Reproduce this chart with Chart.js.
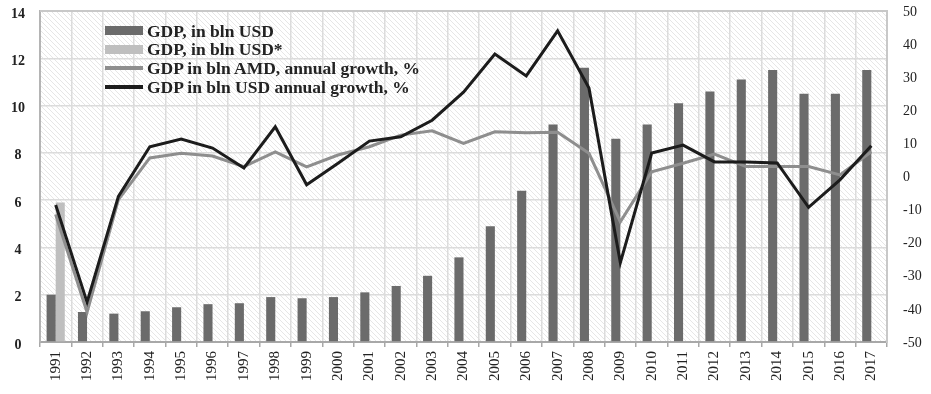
<!DOCTYPE html>
<html>
<head>
<meta charset="utf-8">
<script src="https://cdn.jsdelivr.net/npm/chart.js@4"></script>
<style>
  html, body { margin: 0; padding: 0; background: #fff; }
  #wrap { position: relative; width: 931px; height: 394px; }
  #legend { position: absolute; left: 105px; top: 21.5px; font-family: "Liberation Serif", "Times New Roman", serif; font-weight: bold; font-size: 17.5px; color: #222; line-height: 18.7px; }
  .row { display: flex; align-items: center; height: 18.7px; white-space: nowrap; }
  .sw { width: 38px; margin-right: 4px; flex: none; }
</style>
</head>
<body>
<div id="wrap">
  <canvas id="c" width="931" height="394"></canvas>
  <div id="legend"></div>
</div>
<script>
const years = ['1991','1992','1993','1994','1995','1996','1997','1998','1999','2000','2001','2002','2003','2004','2005','2006','2007','2008','2009','2010','2011','2012','2013','2014','2015','2016','2017'];
const gdpUsd = [2.0,1.27,1.2,1.3,1.47,1.6,1.64,1.9,1.85,1.9,2.1,2.37,2.8,3.58,4.9,6.4,9.2,11.6,8.6,9.2,10.1,10.6,11.1,11.5,10.5,10.5,11.5];
const gdpUsdStar = [5.9,null,null,null,null,null,null,null,null,null,null,null,null,null,null,null,null,null,null,null,null,null,null,null,null,null,null];
const amdGrowth = [-11.5,-41,-7,5.6,7,6.2,3,7.4,2.9,6.5,9,12.5,13.8,10,13.5,13.2,13.4,7,-13.7,1.4,4,6.8,3,3,3,0.5,7.5];
const usdGrowth = [-8.6,-38,-6,9,11.3,8.6,2.6,15,-2.5,4,10.7,12,17,25.5,37,30.4,44,26.7,-26,7.1,9.5,4.4,4.4,4.1,-9.3,-1,9.3];
const leftTicks = [0,2,4,6,8,10,12,14];
const rightTicks = [-50,-40,-30,-20,-10,0,10,20,30,40,50];
const labels = ['GDP, in bln USD','GDP, in bln USD*','GDP in bln AMD, annual growth, %','GDP in bln USD annual growth, %'];

const serif = '"Liberation Serif", "Times New Roman", serif';

// hatch pattern
const pc = document.createElement('canvas');
pc.width = 5; pc.height = 5;
const px = pc.getContext('2d');
px.fillStyle = '#ffffff'; px.fillRect(0,0,5,5);
px.strokeStyle = '#e6e6e6'; px.lineWidth = 1;
px.beginPath(); px.moveTo(-1,-1); px.lineTo(6,6); px.stroke();
px.beginPath(); px.moveTo(-1,4); px.lineTo(1,6); px.stroke();
px.beginPath(); px.moveTo(4,-1); px.lineTo(6,1); px.stroke();

const bgPlugin = {
  id: 'bg',
  beforeDraw(chart) {
    const {ctx, chartArea: a} = chart;
    ctx.save();
    ctx.fillStyle = ctx.createPattern(pc, 'repeat');
    ctx.fillRect(a.left, a.top, a.right - a.left, a.bottom - a.top);
    ctx.restore();
  },
  afterDraw(chart) {
    const {ctx, chartArea: a} = chart;
    ctx.save();
    ctx.strokeStyle = '#c8c8c8'; ctx.lineWidth = 2;
    ctx.beginPath();
    ctx.moveTo(a.left, a.top); ctx.lineTo(a.right, a.top); ctx.lineTo(a.right, a.bottom);
    ctx.stroke();
    ctx.restore();
  }
};

const colors = ['#6b6b6b', '#bfbfbf', '#8e8e8e', '#1c1c1c'];

new Chart(document.getElementById('c'), {
  type: 'bar',
  data: {
    labels: years,
    datasets: [
      { type: 'line', label: labels[3], data: usdGrowth, yAxisID: 'y1', borderColor: colors[3], borderWidth: 3, pointRadius: 0, tension: 0, order: 0 },
      { type: 'line', label: labels[2], data: amdGrowth, yAxisID: 'y1', borderColor: colors[2], borderWidth: 3, pointRadius: 0, tension: 0, order: 1 },
      { type: 'bar', label: labels[0], data: gdpUsd, yAxisID: 'y', backgroundColor: colors[0], order: 2, categoryPercentage: 0.58, barPercentage: 1.0 },
      { type: 'bar', label: labels[1], data: gdpUsdStar, yAxisID: 'y', backgroundColor: colors[1], order: 3, categoryPercentage: 0.58, barPercentage: 1.0 }
    ]
  },
  options: {
    responsive: false,
    animation: false,
    layout: { padding: { top: 11, left: 0, right: 0, bottom: 0 } },
    plugins: { legend: { display: false }, tooltip: { enabled: false } },
    scales: {
      x: {
        offset: true,
        grid: { display: true, offset: true, color: '#dcdcdc', lineWidth: 1.5, tickColor: '#a8a8a8', tickLength: 5, drawTicks: true },
        border: { display: true, color: '#a8a8a8', width: 2 },
        ticks: { color: '#222', font: { family: serif, size: 15 }, minRotation: 90, maxRotation: 90, padding: 4, autoSkip: false },
        afterFit(s) { s.height = 52; }
      },
      y: {
        position: 'left',
        min: 0, max: 14,
        afterBuildTicks(s) { s.ticks = leftTicks.map(v => ({ value: v })); },
        grid: { color: '#dcdcdc', lineWidth: 1.5, drawTicks: false },
        border: { display: true, color: '#b4b4b4', width: 2 },
        ticks: { color: '#222', font: { family: serif, size: 14, weight: 'bold' }, padding: 15, crossAlign: 'center', labelOffset: 3 },
        afterFit(s) { s.width = 40; s.paddingTop = 0; s.paddingBottom = 0; }
      },
      y1: {
        position: 'right',
        min: -50, max: 50,
        afterBuildTicks(s) { s.ticks = rightTicks.map(v => ({ value: v })); },
        grid: { display: false, drawTicks: false },
        border: { display: true, color: '#c8c8c8', width: 2 },
        ticks: { color: '#222', font: { family: serif, size: 14 }, padding: 16, labelOffset: 1 },
        afterFit(s) { s.width = 44; s.paddingTop = 0; s.paddingBottom = 0; }
      }
    }
  },
  plugins: [bgPlugin]
});

// HTML legend
const lg = document.getElementById('legend');
const lw = [9, 9, 4, 4];
labels.forEach((t, i) => {
  const r = document.createElement('div'); r.className = 'row';
  const s = document.createElement('div'); s.className = 'sw';
  s.style.height = lw[i] + 'px'; s.style.background = colors[i];
  const tx = document.createElement('span'); tx.textContent = t;
  r.appendChild(s); r.appendChild(tx); lg.appendChild(r);
});
</script>
</body>
</html>
